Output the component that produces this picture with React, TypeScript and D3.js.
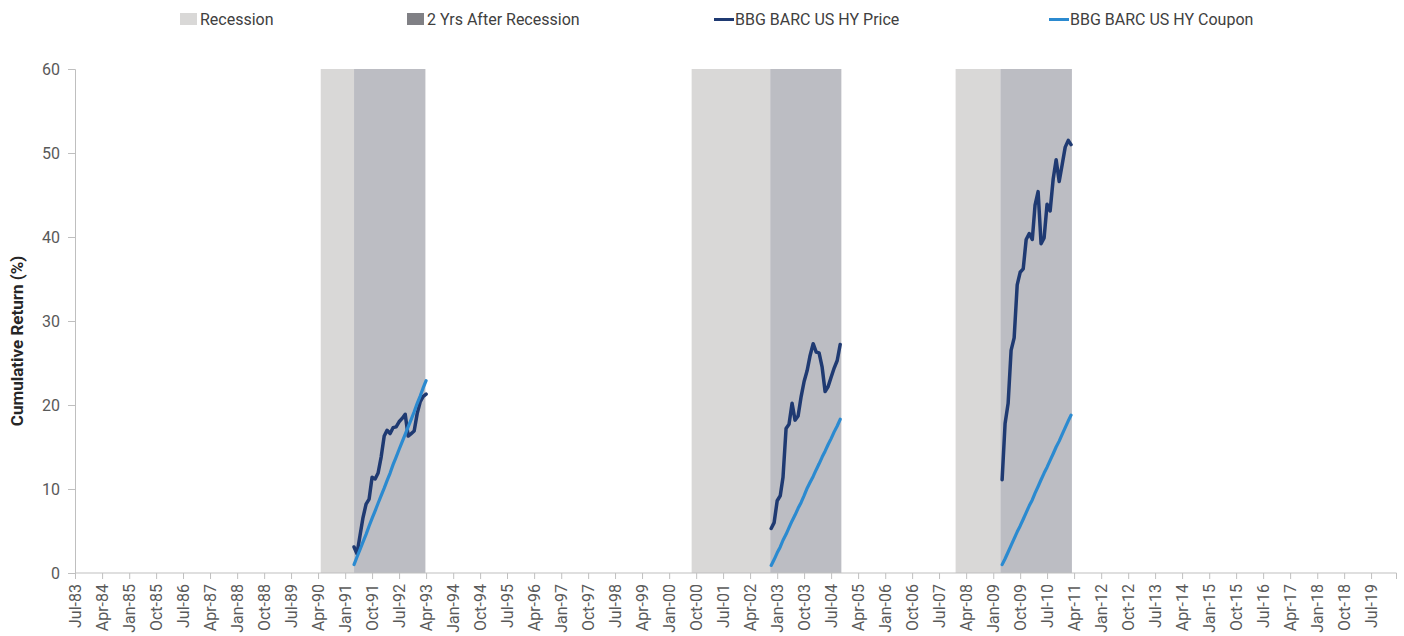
import React, { useEffect, useRef } from 'react';
import * as d3 from 'd3';

const WIDTH = 1404;
const HEIGHT = 636;
const PLOT = { left: 75, right: 1396, top: 69, bottom: 573 };
const FONT = 'Roboto, "DejaVu Sans", sans-serif';

// x domain / ticks (Excel category axis, a label every 9 months)
const X_DOMAIN = ['1983-07-01', '2020-03-10'];
const TICK_START = '1983-07-01';
const TICK_COUNT = 49;
const TICK_STEP = 9;
const Y_TICKS = [0, 10, 20, 30, 40, 50, 60];

// shaded periods
const RECESSION_BANDS = [
    ['1990-04-28', '1991-04-01'],
    ['2000-08-16', '2002-10-22'],
    ['2007-12-16', '2009-03-14'],
];
const AFTER_BANDS = [
    ['1991-04-01', '1993-03-25'],
    ['2002-10-22', '2004-10-13'],
    ['2009-03-14', '2011-03-10'],
];

// monthly series, one block per post-recession window
const EPISODE_STARTS = ['1991-04-01', '2002-11-01', '2009-04-01'];

const PRICE_1991 = [3.1, 2.3, 4.5, 6.6, 8.2, 8.8, 11.4, 11.2, 11.9, 13.8, 16.3, 17.0, 16.6,
    17.3, 17.4, 18.0, 18.4, 18.9, 16.3, 16.6, 16.9, 19.0, 20.4, 21.0, 21.3];
const COUPON_1991 = [1.0, 1.9, 2.8, 3.7, 4.6, 5.6, 6.5, 7.4, 8.3, 9.2, 10.1, 11.0, 11.9,
    12.9, 13.8, 14.7, 15.6, 16.5, 17.4, 18.3, 19.2, 20.2, 21.1, 22.0, 22.9];

const PRICE_2002 = [5.3, 6.0, 8.6, 9.2, 11.4, 17.2, 17.7, 20.2, 18.2, 18.7, 21.0, 22.8,
    24.1, 25.9, 27.3, 26.3, 26.2, 24.5, 21.6, 22.2, 23.3, 24.4, 25.3, 27.2];
const COUPON_2002 = [0.9, 1.6, 2.4, 3.1, 3.9, 4.6, 5.4, 6.2, 6.9, 7.7, 8.4, 9.2,
    10.1, 10.8, 11.5, 12.3, 13.0, 13.8, 14.5, 15.3, 16.0, 16.8, 17.5, 18.3];

const PRICE_2009 = [11.1, 17.8, 20.2, 26.5, 28.0, 34.3, 35.8, 36.2, 39.7, 40.4, 39.7, 43.8,
    45.4, 39.2, 39.9, 43.9, 43.1, 46.9, 49.2, 46.6, 48.6, 50.7, 51.5, 51.0];
const COUPON_2009 = [1.0, 1.7, 2.5, 3.3, 4.1, 4.9, 5.6, 6.4, 7.2, 8.0, 8.7, 9.5,
    10.3, 11.1, 11.9, 12.6, 13.4, 14.2, 15.0, 15.7, 16.5, 17.3, 18.1, 18.8];

const PRICE_SERIES = [PRICE_1991, PRICE_2002, PRICE_2009];
const COUPON_SERIES = [COUPON_1991, COUPON_2002, COUPON_2009];

const LEGEND_LABELS = ['Recession', '2 Yrs After Recession', 'BBG BARC US HY Price', 'BBG BARC US HY Coupon'];
const LEGEND_X = [180, 407, 714, 1049];

const COLORS = {
    recession: '#d9d8d7',
    after: '#bcbdc3',
    afterLegend: '#808085',
    price: '#1f3a72',
    coupon: '#2b8ad0',
    axis: '#bfbfbf',
    tick: '#595959',
};

const parse = d3.timeParse('%Y-%m-%d');

const App = () => {
    const ref = useRef<SVGSVGElement>(null);

    useEffect(() => {
        const svg = d3.select(ref.current);
        svg.selectAll('*').remove();

        const xScale = d3.scaleTime()
            .domain([parse(X_DOMAIN[0])!, parse(X_DOMAIN[1])!])
            .range([PLOT.left, PLOT.right]);

        const yScale = d3.scaleLinear()
            .domain([0, 60])
            .range([PLOT.bottom, PLOT.top]);

        // shaded bands
        const drawBands = (bands: string[][], fill: string) => {
            svg.append('g')
                .selectAll('rect')
                .data(bands)
                .enter().append('rect')
                .attr('x', d => xScale(parse(d[0])!))
                .attr('width', d => xScale(parse(d[1])!) - xScale(parse(d[0])!))
                .attr('y', yScale(60))
                .attr('height', yScale(0) - yScale(60))
                .attr('fill', fill);
        };
        drawBands(RECESSION_BANDS, COLORS.recession);
        drawBands(AFTER_BANDS, COLORS.after);

        // y axis
        const yAxis = d3.axisLeft(yScale).tickValues(Y_TICKS).tickSize(7).tickPadding(8);
        const yG = svg.append('g')
            .attr('transform', 'translate(' + PLOT.left + ',0)')
            .call(yAxis);
        yG.select('.domain').attr('stroke', COLORS.axis);
        yG.selectAll('.tick line').attr('stroke', COLORS.axis);
        yG.selectAll('.tick text')
            .attr('fill', COLORS.tick)
            .style('font-family', FONT)
            .style('font-size', '16px');

        // x axis
        const tickStart = parse(TICK_START)!;
        const tickValues = d3.range(TICK_COUNT).map(i => d3.timeMonth.offset(tickStart, i * TICK_STEP));
        const xAxis = d3.axisBottom(xScale)
            .tickValues(tickValues)
            .tickSize(6)
            //@ts-ignore
            .tickFormat(d3.timeFormat('%b-%y'));
        const xG = svg.append('g')
            .attr('transform', 'translate(0,' + PLOT.bottom + ')')
            .call(xAxis);
        xG.select('.domain').attr('stroke', COLORS.axis).attr('d', 'M' + PLOT.left + ',0H' + (PLOT.right + 0.5) + 'V6');
        xG.selectAll('.tick line').attr('stroke', COLORS.axis);
        xG.selectAll('.tick text')
            .attr('fill', COLORS.tick)
            .style('font-family', FONT)
            .style('font-size', '16px')
            .attr('transform', 'rotate(-90)')
            .attr('x', -11)
            .attr('y', 0)
            .attr('dy', '0.35em')
            .style('text-anchor', 'end');

        // series
        const drawSeries = (series: number[][], color: string, width: number) => {
            series.forEach((values, e) => {
                const start = parse(EPISODE_STARTS[e])!;
                const path = d3.line<number>()
                    .x((_, i) => xScale(d3.timeMonth.offset(start, i)))
                    .y(d => yScale(d));
                svg.append('path')
                    .datum(values)
                    .attr('fill', 'none')
                    .attr('stroke', color)
                    .attr('stroke-width', width)
                    .attr('stroke-linejoin', 'round')
                    .attr('stroke-linecap', 'round')
                    .attr('d', path);
            });
        };
        drawSeries(PRICE_SERIES, COLORS.price, 3.5);
        drawSeries(COUPON_SERIES, COLORS.coupon, 3.2);

        // y axis title
        svg.append('text')
            .attr('transform', 'translate(23,' + 341 + ') rotate(-90)')
            .attr('text-anchor', 'middle')
            .style('font-family', FONT)
            .style('font-size', '17px')
            .style('font-weight', 'bold')
            .attr('fill', '#262626')
            .text('Cumulative Return (%)');

        // legend
        const legend = svg.append('g');
        LEGEND_LABELS.forEach((label, i) => {
            const x = LEGEND_X[i];
            if (i < 2) {
                legend.append('rect')
                    .attr('x', x)
                    .attr('y', 13)
                    .attr('width', 17)
                    .attr('height', 12)
                    .attr('fill', i === 0 ? COLORS.recession : COLORS.afterLegend);
            } else {
                legend.append('line')
                    .attr('x1', x)
                    .attr('x2', x + 20)
                    .attr('y1', 19.5)
                    .attr('y2', 19.5)
                    .attr('stroke', i === 2 ? COLORS.price : COLORS.coupon)
                    .attr('stroke-width', 3);
            }
            legend.append('text')
                .attr('x', i < 2 ? x + 20 : x + 21)
                .attr('y', 19.5)
                .attr('dy', '0.35em')
                .style('font-family', FONT)
                .style('font-size', '16px')
                .attr('fill', '#404040')
                .text(label);
        });
    }, []);

    return (
        <svg ref={ref} width={WIDTH} height={HEIGHT}
            style={{ position: 'absolute', left: 0, top: 0, background: '#fff' }} />
    );
};

export default App;
